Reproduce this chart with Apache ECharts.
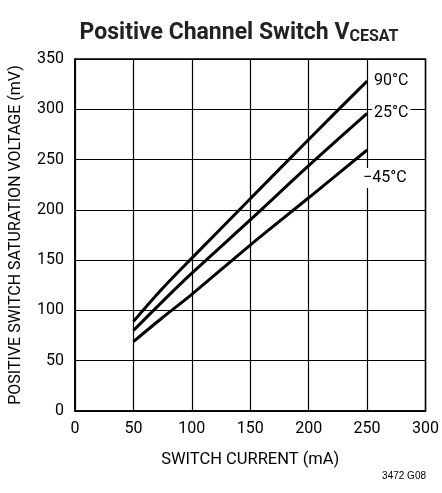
<!DOCTYPE html>
<html><head><meta charset="utf-8">
<script src="https://cdn.jsdelivr.net/npm/echarts@6/dist/echarts.min.js"></script>
<style>html,body{margin:0;padding:0;background:#fff}#c{width:442px;height:493px}</style>
</head><body><div id="c"></div>
<script>
const FONT = "'Liberation Sans Narrow', 'Roboto', sans-serif";
const xTicks = [0, 50, 100, 150, 200, 250, 300];
const yTicks = [0, 50, 100, 150, 200, 250, 300, 350];
const current = [50, 75, 100, 150, 200, 250];
const t90 = [89, 122, 152, 211, 270, 328];
const t25 = [80, 109, 137, 190, 244, 296];
const tm45 = [69, 93, 116, 165, 212, 259.5];
const seriesNames = ['90°C', '25°C', '−45°C'];
const labelOffsets = [[-3, 0], [-3, 0], [-14, 28]];

const chart = echarts.init(document.getElementById('c'));
const mk = (name, vals, off) => ({
  type: 'line', name: name, data: current.map((x, i) => [x, vals[i]]),
  showSymbol: false, smooth: 0.3,
  lineStyle: { color: '#000', width: 3 },
  endLabel: { show: true, formatter: name, color: '#000', fontSize: 16, fontFamily: FONT,
    backgroundColor: '#fff', padding: [2, 2], offset: off },
  z: 5
});
chart.setOption({
  animation: false,
  title: {
    text: '{a|Positive Channel Switch V}{b|CESAT}',
    left: 234, top: 16, textAlign: 'center',
    textStyle: { rich: {
      a: { fontSize: 23, fontWeight: 'bold', fontFamily: FONT, color: '#222' },
      b: { fontSize: 16, fontWeight: 'bold', fontFamily: FONT, color: '#222', verticalAlign: 'bottom', padding: [8, 0, 0, 0] }
    } }
  },
  grid: { left: 75, right: 15, top: 59, bottom: 82, show: true, borderColor: '#000', borderWidth: 1.5 },
  xAxis: {
    type: 'value', min: xTicks[0], max: xTicks[xTicks.length - 1], interval: 50,
    name: 'SWITCH CURRENT (mA)', nameLocation: 'middle', nameGap: 40,
    nameTextStyle: { fontSize: 16.5, fontFamily: FONT, color: '#000' },
    axisLine: { lineStyle: { color: '#000', width: 1.5 } },
    axisTick: { show: false },
    axisLabel: { fontSize: 16, fontFamily: FONT, color: '#000', margin: 10 },
    splitLine: { show: true, lineStyle: { color: '#000', width: 1.2 } }
  },
  yAxis: {
    type: 'value', min: yTicks[0], max: yTicks[yTicks.length - 1], interval: 50,
    name: 'POSITIVE SWITCH SATURATION VOLTAGE (mV)', nameLocation: 'middle', nameGap: 51,
    nameTextStyle: { fontSize: 16, fontFamily: FONT, color: '#000' },
    axisLine: { lineStyle: { color: '#000', width: 1.5 } },
    axisTick: { show: false },
    axisLabel: { fontSize: 16, fontFamily: FONT, color: '#000', margin: 11 },
    splitLine: { show: true, lineStyle: { color: '#000', width: 1.2 } }
  },
  graphic: [{ type: 'text', right: 16, top: 471, style: { text: '3472 G08', fontSize: 10, fontFamily: "'Liberation Sans', sans-serif", fill: '#000' } }],
  series: [mk(seriesNames[0], t90, labelOffsets[0]), mk(seriesNames[1], t25, labelOffsets[1]), mk(seriesNames[2], tm45, labelOffsets[2])]
});
</script></body></html>
